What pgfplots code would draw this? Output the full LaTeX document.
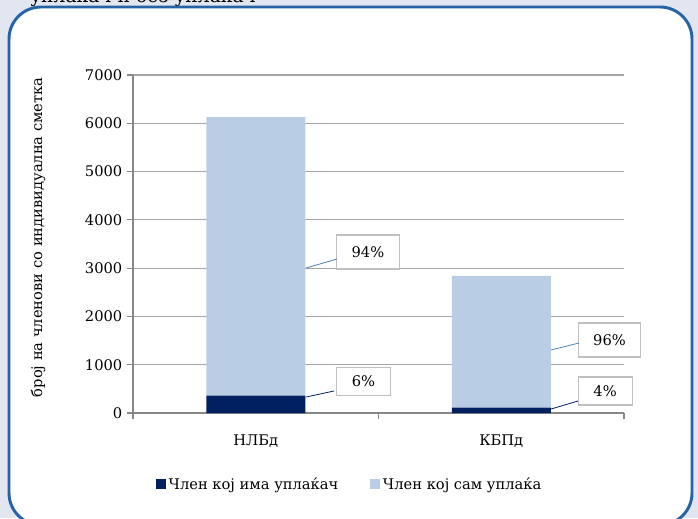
\documentclass[border=0pt]{standalone}
\usepackage{fontspec}
\setmainfont{DejaVu Serif}
\usepackage{pgfplots}
\pgfplotsset{compat=1.18}
\definecolor{frameblue}{HTML}{2563A6}
\definecolor{pagebg}{HTML}{E1E6F0}
\definecolor{navy}{HTML}{002060}
\definecolor{lightbar}{HTML}{B9CDE5}
\definecolor{gridgray}{HTML}{A6A6A6}
\definecolor{axisgray}{HTML}{868686}
\definecolor{boxgray}{HTML}{BFBFBF}
\definecolor{leadblue}{HTML}{4A7EBB}

\begin{document}
\begin{tikzpicture}
% 1 px of the reference = 0.75pt
\useasboundingbox (0pt,0pt) rectangle (523.5pt,388.5pt);
\clip (0pt,0pt) rectangle (523.5pt,388.5pt);
\fill[pagebg] (0pt,0pt) rectangle (523.5pt,388.5pt);
\node[anchor=base west, font=\fontsize{14}{17}\selectfont, inner sep=0] at (22.5pt,386.6pt) {уплаќач и без уплаќач};
\draw[frameblue, line width=2.2pt, fill=white, rounded corners=24pt] (6.75pt,-5.25pt) rectangle (519pt,383.25pt);

\begin{axis}[
    at={(99.75pt,78.75pt)}, anchor=south west,
    scale only axis, width=368.25pt, height=253.5pt,
    xmin=0, xmax=2, ymin=0, ymax=7000,
    clip=false,
    axis lines=left,
    axis line style={-, draw=axisgray, line width=0.8pt},
    ybar stacked, bar width=74.25pt,
    xtick={0.5,1.5}, xticklabels={НЛБд,КБПд},
    major x tick style={draw=none},
    minor xtick={0,1,2},
    ytick={0,1000,...,7000},
    ymajorgrids, grid style={gridgray, line width=0.8pt},
    tick align=outside, major tick length=4.5pt, minor tick length=4.5pt,
    tick style={axisgray, line width=0.8pt},
    yticklabel style={font=\fontsize{11}{13}\selectfont,
        /pgf/number format/assume math mode=true,
        /pgf/number format/1000 sep={}},
    xticklabel style={font=\fontsize{11}{13}\selectfont, yshift=-8pt},
    ylabel={број на членови со индивидуална сметка},
    every axis y label/.style={at={(axis description cs:-0.1935,0.52)},
        rotate=90, anchor=center, font=\fontsize{11}{13}\selectfont},
    legend style={at={(axis description cs:0.442,-0.213)}, anchor=center,
        legend columns=2, draw=none, fill=none,
        font=\fontsize{11}{13}\selectfont,
        /tikz/every even column/.append style={column sep=22pt}},
    legend image code/.code={\fill[#1] (0pt,-3.2pt) rectangle (7.5pt,4.3pt);},
]
\addplot[fill=navy, draw=none] coordinates {(0.5,360) (1.5,110)};
\addlegendentry{Член кој има уплаќач}
\addplot[fill=lightbar, draw=none] coordinates {(0.5,5770) (1.5,2730)};
\addlegendentry{Член кој сам уплаќа}

\draw[leadblue, line width=0.6pt] (axis cs:0.705,3003) -- (axis cs:0.831,3189);
\draw[navy, line width=0.6pt] (axis cs:0.705,331) -- (axis cs:0.819,456);
\draw[leadblue, line width=0.6pt] (axis cs:1.703,1305) -- (axis cs:1.817,1450);
\draw[navy, line width=0.6pt] (axis cs:1.703,83) -- (axis cs:1.813,249);

\node[draw=boxgray, fill=white, line width=0.8pt, minimum width=47pt, minimum height=25.5pt,
    font=\fontsize{11}{13}\selectfont] at (axis cs:0.957,3334) {94\%};
\node[draw=boxgray, fill=white, line width=0.8pt, minimum width=40pt, minimum height=21.5pt,
    font=\fontsize{11}{13}\selectfont] at (axis cs:0.939,652) {6\%};
\node[draw=boxgray, fill=white, line width=0.8pt, minimum width=46pt, minimum height=25.5pt,
    font=\fontsize{11}{13}\selectfont] at (axis cs:1.941,1512) {96\%};
\node[draw=boxgray, fill=white, line width=0.8pt, minimum width=40.5pt, minimum height=21pt,
    font=\fontsize{11}{13}\selectfont] at (axis cs:1.923,456) {4\%};
\end{axis}
\end{tikzpicture}
\end{document}
